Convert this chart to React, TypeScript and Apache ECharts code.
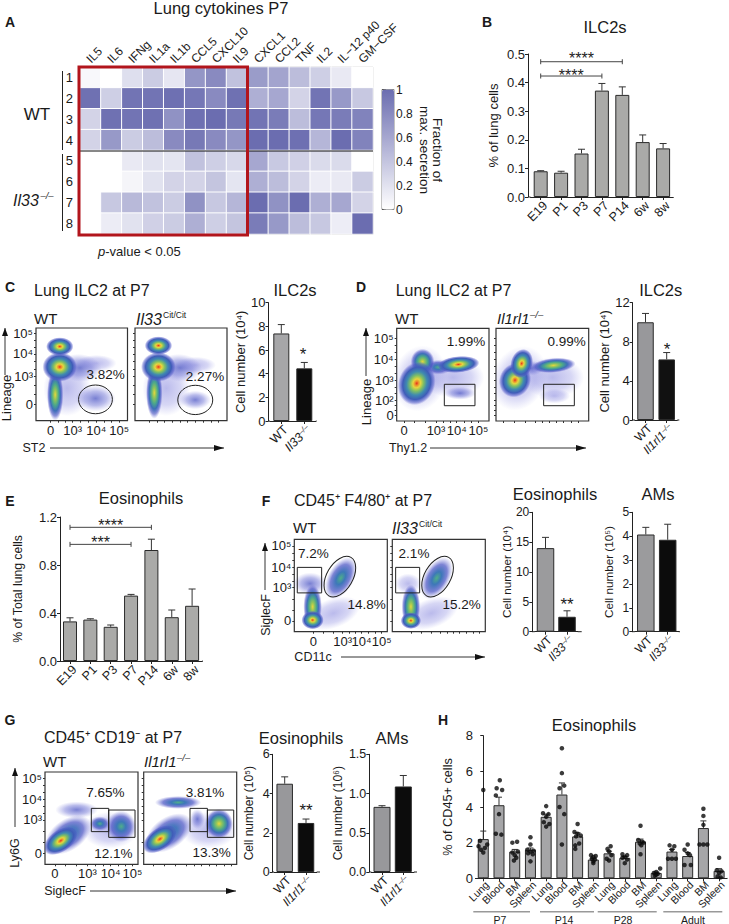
import React, { useEffect, useRef } from "react";
import * as echarts from "echarts";

const FONT = '"Liberation Sans", Arial, Helvetica, sans-serif';
const INK = "#222222";

// ---------- Panel A ----------
const heatCols = ["IL5","IL6","IFNg","IL1a","IL1b","CCL5","CXCL10","IL9","CXCL1","CCL2","TNF","IL2","IL−12 p40","GM−CSF"];
const heatRows = ["1","2","3","4","5","6","7","8"];
const heatValues = [
  [.05,0,.22,.35,.17,.72,.8,.42,.68,.62,.45,.33,.15,0],
  [.97,.33,.95,.95,.98,.93,.8,.97,.55,.6,.3,.95,.7,.38],
  [.3,.97,.95,.97,.75,.98,1,.92,.95,.9,.45,.93,.9,.85],
  [.3,.7,.35,.45,.8,.92,.8,.72,1,1,.98,.5,1,.85],
  [0,0,.15,.2,.18,.42,.33,.27,.6,.37,.32,.25,.25,0],
  [0,0,.07,.2,.3,.3,.4,.18,.55,.45,.3,.13,.15,.35],
  [0,.38,.48,.42,.35,.75,.38,.5,1,.75,1,.55,.6,.3],
  [0,.13,.2,.32,.35,.55,.33,.4,.9,.7,.45,.38,.12,1],
];

// ---------- Time-course bars ----------
const ageCats = ["E19","P1","P3","P7","P14","6w","8w"];
const ilcAgeVals = [.09,.085,.152,.372,.357,.192,.17];
const ilcAgeErrs = [.002,.005,.015,.025,.028,.025,.017];
const eosAgeVals = [.33,.345,.285,.545,.925,.365,.46];
const eosAgeErrs = [.03,.007,.015,.01,.09,.06,.14];

// ---------- Two-bar panels ----------
const catsIl33 = ["WT","Il33–/–"];
const catsRl1 = ["WT","Il1rl1–/–"];
const cVals = [7.4,4.45]; const cErrs = [.75,.5];
const dVals = [10,6.2]; const dErrs = [.9,.7];
const fEosVals = [14,2.5]; const fEosErrs = [1.8,1];
const fAmVals = [4.07,3.85]; const fAmErrs = [.3,.65];
const gEosVals = [4.5,2.5]; const gEosErrs = [.35,.2];
const gAmVals = [.83,1.09]; const gAmErrs = [.015,.14];

// ---------- Panel H ----------
const tissueCats = ["Lung","Blood","BM","Spleen","Lung ","Blood ","BM ","Spleen ","Lung  ","Blood  ","BM  ","Spleen  ","Lung   ","Blood   ","BM   ","Spleen   "];
const hVals = [2.2,4.1,1.5,1.6,3.45,4.7,2.35,1.05,1.4,1.15,2.05,.3,1.5,1.25,2.82,.42];
const hErrs = [.45,.45,.12,.1,.15,.65,.2,.07,.12,.07,.15,.05,.12,.2,.4,.12];
// [bar position with its sideways offset, value]
const hDots = [
  [0,4.95],[-.2,2.1],[.25,1.9],[-.3,1.8],[.1,1.7],[-.15,1.6],[0,1.45],
  [1.05,5.5],[.85,5.05],[1.2,4.95],[.8,4.65],[1,3.6],[.8,2.5],[1.15,2.45],
  [1.85,2.0],[2.15,2.05],[2.2,1.5],[1.85,1.45],[2,1.3],[2.1,1.15],[1.95,1.0],
  [3,2.3],[3,1.9],[2.8,1.6],[3.2,1.55],[3,1.5],[2.85,1.4],[3.15,1.35],[3,.95],
  [4,4.05],[3.8,3.65],[4.15,3.6],[4,3.45],[3.85,3.15],[4.2,3.05],[4,2.9],
  [5,7.3],[5,5.9],[5.15,5.2],[4.85,5.05],[4.85,4.0],[5.15,3.6],[5,1.9],
  [6,3.05],[5.8,2.6],[6,2.5],[6.2,2.4],[5.9,2.35],[6.1,1.95],[5.85,1.85],[5.85,1.65],
  [6.85,1.3],[7.15,1.25],[7,1.2],[6.9,1.1],[7.1,1.05],[7,.95],[7,.85],
  [8.1,1.8],[7.9,1.65],[8,1.5],[8.15,1.3],[7.85,1.1],[8,1.0],
  [8.85,1.35],[9.15,1.3],[9,1.2],[8.85,1.15],[9.15,1.05],[9,.85],
  [10,2.95],[9.85,2.15],[10.1,2.05],[10.2,2.0],[9.95,1.95],[10.05,1.85],[10,1.35],
  [11.25,.55],[11,.35],[10.85,.3],[11.1,.25],[11,.2],[10.9,.15],
  [11.85,1.85],[12.15,1.8],[12,1.6],[11.75,1.1],[12,1.1],[12.25,1.1],
  [13,1.9],[12.8,1.6],[13,1.4],[13.15,1.3],[12.8,.75],[13.2,.75],
  [14,3.9],[14,3.5],[14,3.0],[13.75,1.9],[14,1.9],[14.25,1.9],
  [15,1.15],[14.85,.45],[15.15,.4],[15,.3],[14.9,.1],[15.1,.05],
];

// ---------- Flow plots: [x%, y%, rx%, ry%, rotation deg, density level] ----------
const flowC1 = [[34,35,26,30,0,0],[66,62,22,9,0,0],[65,24,22,14,0,1],[48,57,24,15,-5,1],[21,28,9,28,0,3],[26,58,19,16,0,4],[26,80,15,10,0,4]];
const flowC2 = [[34,35,26,30,0,0],[66,60,22,9,0,0],[65.5,22.4,17,10,0,1],[49,57,24,15,-5,1],[21,30,9,28,0,3],[25.5,58,19,16,0,4],[25.5,81,15,10,0,4]];
const flowD1 = [[25,46,29,36,-15,0],[61,47,34,22,0,0],[68.6,30,17,7,0,1],[45,58,15,8,0,2],[28,64,13,14,0,3],[21.7,40.6,20,24,-20,4],[66.8,61,23,9,5,4]];
const flowD2 = [[25,46,29,36,-25,0],[61,47,34,22,0,0],[63,27,17,8,0,0],[38,57,13,8,0,1],[20.5,44,17,19,-25,4],[27.7,62,12,16,-15,4],[62,60,24,8,5,3]];
const flowF1 = [[42,20,30,16,20,0],[17,52,18,12,0,1],[50,58,14,25,-30,2],[19.7,27,10,24,0,3],[19.7,12.6,12,10,0,4]];
const flowF2 = [[42,20,30,16,20,0],[17,52,14,11,0,0],[47.7,58,14,25,-30,2],[20,27,10,24,0,3],[20,12,11,9,0,4]];
const flowG1 = [[70,37,30,20,0,0],[34,59,23,9,0,1],[25,32,28,17,35,2],[59,44,11,8,0,2],[82,41,16,17,0,2],[17,25.6,21,12,35,4]];
const flowG2 = [[70,37,30,20,0,0],[37,67,25,7,0,2],[27,34,28,17,35,2],[57.7,49,8,11,0,1],[81,44,15,16,0,3],[17.5,27.4,21,12,35,4]];
// gates: [a, b, c, d, rotation deg, kind] kind 0 = rect (x0,y0,x1,y1), kind 1 = ellipse (cx,cy,rx,ry)
const gateC1 = [[65,23,18.5,15.5,0,1]];
const gateC2 = [[65.5,22.4,19,15.8,0,1]];
const gateD1 = [[51.6,16.5,84.8,39.6,0,0]];
const gateD2 = [[51.4,16.5,84.5,39.6,0,0]];
const gateF1 = [[3.2,42,29.4,69.6,0,0],[49,59.6,14,24,-30,1]];
const gateF2 = [[3.6,42,29.4,69.6,0,0],[48.7,59.6,14,24,-30,1]];
const gateG1 = [[49.8,35.4,68.5,60.6,0,0],[68.5,29.2,96.8,58.8,0,0]];
const gateG2 = [[49.8,35.4,68.5,60.6,0,0],[68.5,29.2,96.8,58.8,0,0]];

const ticksC = { xv:[16,40,66,91], xl:["0","10³","10⁴","10⁵"], yv:[18,48,72,94.6], yl:["0","10³","10⁴","10⁵"] };
const ticksD = { xv:[8,42.6,65,88.5], xl:["0","10³","10⁴","10⁵"], yv:[5.8,22.5,44,66.5,89], yl:["0","10²","10³","10⁴","10⁵"] };
const ticksF = { xv:[20.4,52,72.4,94], xl:["0","10³","10⁴","10⁵"], yv:[11.6,47.6,70,92.8], yl:["0","10³","10⁴","10⁵"] };
const ticksG = { xv:[10.7,45.5,70.6,94], xl:["0","10³","10⁴","10⁵"], yv:[12,48,70.5,93], yl:["0","10³","10⁴","10⁵"] };

const levelStops: any[] = [
  [[0,"rgba(130,130,220,.55)"],[.6,"rgba(140,140,225,.35)"],[1,"rgba(150,150,230,0)"]],
  [[0,"rgba(75,85,195,.75)"],[.55,"rgba(100,105,210,.45)"],[1,"rgba(130,130,220,0)"]],
  [[0,"#4fae8a"],[.3,"#3d78b8"],[.65,"rgba(70,80,195,.7)"],[1,"rgba(120,120,215,0)"]],
  [[0,"#e6d63e"],[.2,"#8fc45c"],[.42,"#4aa68c"],[.62,"#3d6fb8"],[.82,"rgba(70,80,195,.6)"],[1,"rgba(120,120,215,0)"]],
  [[0,"#e5301e"],[.09,"#ee8a2c"],[.2,"#e6d63e"],[.36,"#7fbf64"],[.54,"#3f8ab0"],[.74,"#3f5cb8"],[.9,"rgba(80,90,200,.5)"],[1,"rgba(120,120,215,0)"]],
];

function buildOption() {
  const grid: any[] = [], xAxis: any[] = [], yAxis: any[] = [], series: any[] = [], graphic: any[] = [];

  const txt = (x: number, y: number, text: string, o: any = {}) => {
    graphic.push({
      type: "text", x, y, z: 100, silent: true,
      rotation: o.rot ? (o.rot * Math.PI) / 180 : 0,
      style: {
        text, x: 0, y: 0, fill: o.fill || "#1a1a1a", fontFamily: FONT,
        fontSize: o.size || 13, fontWeight: o.weight || "normal", fontStyle: o.style || "normal",
        align: o.align || "center", verticalAlign: "middle", rich: o.rich,
      },
    });
  };
  const seg = (x1: number, y1: number, x2: number, y2: number, stroke = INK, w = 1) =>
    graphic.push({ type: "line", z: 90, silent: true, shape: { x1, y1, x2, y2 }, style: { stroke, lineWidth: w } });
  const arrow = (x1: number, y1: number, x2: number, y2: number) => {
    seg(x1, y1, x2, y2, "#333", 1);
    const up = x1 === x2;
    const pts = up ? [[x2, y2], [x2 - 3, y2 + 8], [x2 + 3, y2 + 8]] : [[x2, y2], [x2 - 10, y2 - 3], [x2 - 10, y2 + 3]];
    graphic.push({ type: "polygon", z: 90, silent: true, shape: { points: pts }, style: { fill: "#111" } });
  };

  const catLabel = (v: string) => {
    const t = v.trim();
    const m = t.match(/^(.*)–\/–$/);
    return m ? `{i|${m[1]}}{s|–/–}` : t;
  };

  const barPanel = (c: any) => {
    const n = c.cats.length;
    const gl = c.firstCenter - c.band / 2;
    const nameSize = c.nameSize || 13;
    grid.push({ left: gl, top: c.top, width: c.band * n, height: c.y0 - c.top });
    const gi = grid.length - 1;
    xAxis.push({
      type: "category", gridIndex: gi, data: c.cats,
      axisLine: { lineStyle: { color: INK, width: 1 } },
      axisTick: { show: true, alignWithLabel: true, length: 3, lineStyle: { color: INK } },
      axisLabel: {
        interval: 0, rotate: 45, align: "right", verticalAlign: "top",
        fontFamily: FONT, fontSize: c.xSize || 13, color: "#1a1a1a", margin: c.xMargin ?? 2,
        formatter: catLabel,
        rich: {
          i: { fontStyle: "italic", fontFamily: FONT, fontSize: c.xSize || 13, color: "#1a1a1a" },
          s: { fontStyle: "italic", fontFamily: FONT, fontSize: (c.xSize || 13) * 0.62, color: "#1a1a1a", verticalAlign: "top" },
        },
      },
    });
    const xi = xAxis.length - 1;
    yAxis.push({
      type: "value", gridIndex: gi, min: 0, max: c.max, interval: c.interval, offset: gl - c.axisX,
      splitLine: { show: false },
      axisLine: { show: true, lineStyle: { color: INK, width: 1 } },
      axisTick: { show: true, length: 3, lineStyle: { color: INK } },
      axisLabel: { fontFamily: FONT, fontSize: c.ySize || 13, color: "#1a1a1a", margin: 3,
        formatter: c.yFmt || ((v: number) => String(v)) },
      name: c.yName, nameLocation: "middle", nameGap: c.axisX - c.nameX - nameSize / 2,
      nameTextStyle: { fontFamily: FONT, fontSize: nameSize, color: "#1a1a1a" },
    });
    const yi = yAxis.length - 1;
    if (gl > c.axisX) seg(c.axisX, c.y0, gl, c.y0);
    if (c.xEnd > gl + c.band * n) seg(gl + c.band * n, c.y0, c.xEnd, c.y0);
    series.push({
      type: "bar", xAxisIndex: xi, yAxisIndex: yi, data: c.vals, barWidth: c.barW,
      itemStyle: {
        borderColor: "#2a2a2a", borderWidth: 1,
        color: (p: any) => c.colors[p.dataIndex % c.colors.length],
      },
    });
    series.push({
      type: "custom", xAxisIndex: xi, yAxisIndex: yi, encode: { x: 0, y: 1 }, z: 3,
      data: c.vals.map((v: number, i: number) => [i, v, c.errs[i]]),
      renderItem: (_: any, api: any) => {
        const i = api.value(0), v = api.value(1), e = api.value(2);
        const a = api.coord([i, v]), b = api.coord([i, v + e]);
        const cap = c.cap ?? 3.5;
        const st = { stroke: "#333", lineWidth: 1 };
        return { type: "group", children: [
          { type: "line", shape: { x1: a[0], y1: a[1], x2: b[0], y2: b[1] }, style: st },
          { type: "line", shape: { x1: b[0] - cap, y1: b[1], x2: b[0] + cap, y2: b[1] }, style: st },
        ] };
      },
    });
    if (c.brackets) {
      series.push({
        type: "custom", xAxisIndex: xi, yAxisIndex: yi, encode: { x: 0, y: 2 }, z: 4,
        data: c.brackets.map((b: any) => [b[0], b[1], b[2]]),
        renderItem: (p: any, api: any) => {
          const b = c.brackets[p.dataIndex];
          const l = api.coord([b[0], b[2]]), r = api.coord([b[1], b[2]]);
          const st = { stroke: "#444", lineWidth: 1 };
          return { type: "group", children: [
            { type: "line", shape: { x1: l[0], y1: l[1], x2: r[0], y2: r[1] }, style: st },
            { type: "line", shape: { x1: l[0], y1: l[1] - 2.5, x2: l[0], y2: l[1] + 2.5 }, style: st },
            { type: "line", shape: { x1: r[0], y1: r[1] - 2.5, x2: r[0], y2: r[1] + 2.5 }, style: st },
            { type: "text", style: { text: b[3], x: l[0] + (r[0] - l[0]) * 0.5, y: l[1] + (b[4] ?? -2), fill: "#222",
              fontFamily: FONT, fontSize: 16, align: "center", verticalAlign: "middle" } },
          ] };
        },
      });
    }
    return { xi, yi };
  };

  const flow = (box: number[], blobs: number[][], gates: number[][], ticks: any, showLabels: boolean) => {
    const [l, t, r, b] = box;
    grid.push({ left: l, top: t, width: r - l, height: b - t, show: true, borderColor: "#333", borderWidth: 1.2, backgroundColor: "#fff" });
    const gi = grid.length - 1;
    const minorOf = (v: number[]) => {
      const out = [...v];
      for (let i = 0; i < v.length - 1; i++) out.push((v[i] * 2 + v[i + 1]) / 3, (v[i] + v[i + 1] * 2) / 3);
      return out;
    };
    const mk = (vals: number[], labs: string[]) => ({
      type: "value", gridIndex: gi, min: 0, max: 100,
      splitLine: { show: false }, axisLine: { show: false },
      axisTick: { show: true, customValues: minorOf(vals), length: 2, lineStyle: { color: "#333" } },
      axisLabel: { show: showLabels, customValues: vals, fontFamily: FONT, fontSize: 13, color: "#1a1a1a", margin: 3,
        formatter: (v: number) => labs[vals.indexOf(v)] ?? "" },
    });
    xAxis.push(mk(ticks.xv, ticks.xl));
    yAxis.push(mk(ticks.yv, ticks.yl));
    const xi = xAxis.length - 1, yi = yAxis.length - 1;
    series.push({
      type: "custom", xAxisIndex: xi, yAxisIndex: yi, encode: { x: 0, y: 1 }, clip: true, data: blobs,
      renderItem: (_: any, api: any) => {
        const c = api.coord([api.value(0), api.value(1)]);
        const o = api.coord([0, 0]), u = api.coord([1, 1]);
        const lv = api.value(5);
        const stops = levelStops[lv].map((s: any) => ({ offset: s[0], color: s[1] }));
        return {
          type: "ellipse", x: c[0], y: c[1], rotation: (api.value(4) * Math.PI) / 180,
          shape: { cx: 0, cy: 0, rx: api.value(2) * (u[0] - o[0]), ry: api.value(3) * (o[1] - u[1]) },
          style: { fill: new echarts.graphic.RadialGradient(0.5, 0.5, 0.5, stops) },
        };
      },
    });
    series.push({
      type: "custom", xAxisIndex: xi, yAxisIndex: yi, encode: { x: 0, y: 1 }, z: 5, data: gates,
      renderItem: (_: any, api: any) => {
        const st = { fill: "none", stroke: "#222", lineWidth: 1 };
        if (api.value(5) === 0) {
          const p0 = api.coord([api.value(0), api.value(1)]), p1 = api.coord([api.value(2), api.value(3)]);
          return { type: "rect", shape: { x: p0[0], y: p1[1], width: p1[0] - p0[0], height: p0[1] - p1[1] }, style: st };
        }
        const c = api.coord([api.value(0), api.value(1)]);
        const o = api.coord([0, 0]), u = api.coord([1, 1]);
        return {
          type: "ellipse", x: c[0], y: c[1], rotation: (api.value(4) * Math.PI) / 180,
          shape: { cx: 0, cy: 0, rx: api.value(2) * (u[0] - o[0]), ry: api.value(3) * (o[1] - u[1]) },
          style: st,
        };
      },
    });
  };

  // ---------- A: heat map ----------
  grid.push({ left: 80, top: 67, width: 293, height: 167, show: true, borderColor: "#666", borderWidth: 1 });
  xAxis.push({
    type: "category", gridIndex: 0, position: "top", data: heatCols,
    axisLine: { show: false }, axisTick: { show: false }, splitLine: { show: false },
    axisLabel: { show: false },
  });
  heatCols.forEach((name, i) => {
    txt(80 + (i + 0.5) * (293 / heatCols.length) - 2, 61, name, { size: 12, rot: 45, align: "left" });
  });
  yAxis.push({
    type: "category", gridIndex: 0, inverse: true, data: heatRows,
    axisLine: { show: false }, axisTick: { show: false }, splitLine: { show: false },
    axisLabel: { margin: 7, fontFamily: FONT, fontSize: 13, color: "#1a1a1a" },
  });
  series.push({
    type: "heatmap", xAxisIndex: 0, yAxisIndex: 0,
    data: heatValues.flatMap((row, r) => row.map((v, c) => [c, r, v])),
    itemStyle: { borderColor: "#ffffff", borderWidth: 1 },
  });
  // colour-bar scale
  grid.push({ left: 382, top: 89.5, width: 12, height: 120, show: true, borderColor: "#888", borderWidth: 1 });
  xAxis.push({ type: "value", gridIndex: 1, min: 0, max: 1, show: false });
  yAxis.push({
    type: "value", gridIndex: 1, position: "right", min: 0, max: 1, interval: 0.2,
    splitLine: { show: false }, axisLine: { show: false },
    axisTick: { show: true, length: 4, lineStyle: { color: "#555" } },
    axisLabel: { margin: 2, fontFamily: FONT, fontSize: 12, color: "#1a1a1a", formatter: (v: number) => String(+v.toFixed(1)) },
  });

  graphic.push({ type: "rect", z: 95, silent: true, shape: { x: 79, y: 67, width: 168.5, height: 168 }, style: { fill: "none", stroke: "#b2151c", lineWidth: 3 } });
  seg(80, 151, 373, 151, "#111", 1);
  seg(62.5, 71, 62.5, 150, "#222", 1);
  seg(62.5, 154, 62.5, 231, "#222", 1);
  txt(221, 8, "Lung cytokines P7", { size: 16.5 });
  txt(10, 22, "A", { size: 14, weight: "bold" });
  txt(37, 114, "WT", { size: 17 });
  txt(26, 200, "Il33", { size: 16, style: "italic" });
  txt(47, 195, "–/–", { size: 9.5, style: "italic" });
  txt(437, 150, "Fraction of", { size: 13.5, rot: -90 });
  txt(424, 150, "max. secretion", { size: 13.5, rot: -90 });
  txt(98, 251, "{i|p}-value < 0.05", { size: 13, align: "left",
    rich: { i: { fontStyle: "italic", fontFamily: FONT, fontSize: 13, fill: "#1a1a1a" } } });

  // ---------- B ----------
  barPanel({ cats: ageCats, vals: ilcAgeVals, errs: ilcAgeErrs, colors: ["#aaaaa8"], firstCenter: 540.7, band: 20.4, barW: 14,
    axisX: 528, xEnd: 673, top: 54, y0: 197, max: .5, interval: .1, yFmt: (v: number) => v.toFixed(1),
    yName: "% of lung cells", nameX: 493, xSize: 12.5,
    brackets: [[0,4,.473,"****",-3.5],[0,3,.423,"****",-1]] });
  txt(487, 22, "B", { size: 14, weight: "bold" });
  txt(605, 27, "ILC2s", { size: 16.5 });

  // ---------- C ----------
  txt(10, 287, "C", { size: 14, weight: "bold" });
  txt(34, 290, "Lung ILC2 at P7", { size: 16, align: "left" });
  txt(34, 318, "WT", { size: 15, align: "left" });
  txt(136, 319, "Il33", { size: 16, style: "italic", align: "left" });
  txt(163, 315, "Cit/Cit", { size: 8.5, align: "left" });
  flow([36, 328, 127.5, 420.7], flowC1, gateC1, ticksC, true);
  flow([135, 328, 227, 420.7], flowC2, gateC2, ticksC, false);
  txt(105.7, 374, "3.82%", { size: 13.5 });
  txt(205, 376, "2.27%", { size: 13.5 });
  arrow(5, 375, 5, 328);
  txt(6, 398, "Lineage", { size: 13, rot: 90 });
  txt(34, 448, "ST2", { size: 12.5 });
  arrow(50, 448, 224, 448);
  barPanel({ cats: catsIl33, vals: cVals, errs: cErrs, colors: ["#a6a6a8","#0c0c0c"], firstCenter: 281.3, band: 23, barW: 16,
    axisX: 268.5, xEnd: 316.7, top: 302.7, y0: 421, max: 10, interval: 2, yName: "Cell number (10⁴)", nameX: 241, xSize: 12.5 });
  txt(295, 290, "ILC2s", { size: 16.5 });
  txt(303, 354.4, "*", { size: 17 });

  // ---------- D ----------
  txt(361, 287, "D", { size: 14, weight: "bold" });
  txt(395.7, 290, "Lung ILC2 at P7", { size: 16, align: "left" });
  txt(395, 318, "WT", { size: 15, align: "left" });
  txt(497, 318, "Il1rl1", { size: 15, style: "italic", align: "left" });
  txt(530, 314, "–/–", { size: 9.5, style: "italic", align: "left" });
  flow([396.7, 328.3, 489, 421], flowD1, gateD1, ticksD, true);
  flow([496, 328.3, 588.7, 421], flowD2, gateD2, ticksD, false);
  txt(466, 341.7, "1.99%", { size: 13.5 });
  txt(566.7, 341.7, "0.99%", { size: 13.5 });
  arrow(366, 376, 366, 328);
  txt(366, 402, "Lineage", { size: 13, rot: 90 });
  txt(408, 448, "Thy1.2", { size: 12.5 });
  arrow(430, 448, 586, 448);
  barPanel({ cats: catsRl1, vals: dVals, errs: dErrs, colors: ["#98989b","#111111"], firstCenter: 645.5, band: 21.2, barW: 16.5,
    axisX: 632.7, xEnd: 679.3, top: 302.7, y0: 420, max: 12, interval: 4, yName: "Cell number (10⁴)", nameX: 609, xSize: 12 });
  txt(660.7, 290, "ILC2s", { size: 16.5 });
  txt(667, 349.5, "*", { size: 17 });

  // ---------- E ----------
  barPanel({ cats: ageCats, vals: eosAgeVals, errs: eosAgeErrs, colors: ["#aaaaa8"], firstCenter: 70, band: 20.35, barW: 14,
    axisX: 60, xEnd: 203, top: 517, y0: 661, max: 1.2, interval: .4, yFmt: (v: number) => v.toFixed(1),
    yName: "% of Total lung cells", nameSize: 12.2, nameX: 18, xSize: 12.5,
    brackets: [[0,4,1.114,"****"],[0,3,.972,"***"]] });
  txt(10, 501, "E", { size: 14, weight: "bold" });
  txt(141, 497.7, "Eosinophils", { size: 16.5 });

  // ---------- F ----------
  txt(266, 501, "F", { size: 14, weight: "bold" });
  txt(294, 500, "CD45⁺ F4/80⁺ at P7", { size: 16, align: "left" });
  txt(293, 527, "WT", { size: 15, align: "left" });
  txt(392, 528, "Il33", { size: 16, style: "italic", align: "left" });
  txt(419, 524, "Cit/Cit", { size: 8.5, align: "left" });
  flow([294.3, 539.3, 387.3, 631.7], flowF1, gateF1, ticksF, true);
  flow([392.3, 539.3, 485.3, 631.7], flowF2, gateF2, ticksF, false);
  txt(313.3, 553.3, "7.2%", { size: 13.5 });
  txt(366.7, 604.3, "14.8%", { size: 13.5 });
  txt(414, 553.3, "2.1%", { size: 13.5 });
  txt(461.7, 604.3, "15.2%", { size: 13.5 });
  arrow(265, 590, 265, 543);
  txt(266, 615, "SiglecF", { size: 12.5, rot: 90 });
  txt(313, 657, "CD11c", { size: 12.5 });
  arrow(341, 657, 485, 657);
  barPanel({ cats: catsIl33, vals: fEosVals, errs: fEosErrs, colors: ["#9b9b9d","#0c0c0c"], firstCenter: 545.5, band: 21.5, barW: 17.5,
    axisX: 532.3, xEnd: 581.7, top: 512.3, y0: 631.7, max: 20, interval: 5, yName: "Cell number (10⁴)", nameSize: 11.7, nameX: 506.7, xSize: 12, ySize: 12 });
  txt(555, 494, "Eosinophils", { size: 16.5 });
  txt(567, 604, "**", { size: 17 });
  barPanel({ cats: catsIl33, vals: fAmVals, errs: fAmErrs, colors: ["#9b9b9d","#0c0c0c"], firstCenter: 645.8, band: 21.9, barW: 17.5,
    axisX: 632.3, xEnd: 680, top: 512.3, y0: 631.7, max: 5, interval: 1, yName: "Cell number (10⁵)", nameSize: 11.7, nameX: 609, xSize: 12, ySize: 12 });
  txt(658, 494, "AMs", { size: 16.5 });

  // ---------- G ----------
  txt(10, 720, "G", { size: 14, weight: "bold" });
  txt(44, 737.7, "CD45⁺ CD19⁻ at P7", { size: 16, align: "left" });
  txt(43, 761, "WT", { size: 15, align: "left" });
  txt(144, 761, "Il1rl1", { size: 15, style: "italic", align: "left" });
  txt(177, 757, "–/–", { size: 9.5, style: "italic", align: "left" });
  flow([45, 772, 138, 864.3], flowG1, gateG1, ticksG, true);
  flow([143.7, 772, 236.7, 864.3], flowG2, gateG2, ticksG, false);
  txt(105.3, 792, "7.65%", { size: 13.5 });
  txt(113.3, 853, "12.1%", { size: 13.5 });
  txt(205, 792, "3.81%", { size: 13.5 });
  txt(211.7, 852.3, "13.3%", { size: 13.5 });
  arrow(15, 827, 15, 768);
  txt(15, 853, "Ly6G", { size: 12.5, rot: 90 });
  txt(65, 891, "SiglecF", { size: 12.5 });
  arrow(90, 891, 236, 891);
  barPanel({ cats: catsRl1, vals: gEosVals, errs: gEosErrs, colors: ["#98989b","#0c0c0c"], firstCenter: 284.7, band: 21.3, barW: 16.5,
    axisX: 272.7, xEnd: 320, top: 754.3, y0: 872, max: 6, interval: 2, yName: "Cell number (10⁵)", nameSize: 12, nameX: 249.3, xSize: 12, ySize: 12.5 });
  txt(301, 737.7, "Eosinophils", { size: 16.5 });
  txt(306, 810.5, "**", { size: 17 });
  barPanel({ cats: catsRl1, vals: gAmVals, errs: gAmErrs, colors: ["#98989b","#0c0c0c"], firstCenter: 382, band: 21.3, barW: 17,
    axisX: 369.3, xEnd: 417, top: 754.3, y0: 872, max: 1.5, interval: .5, yFmt: (v: number) => v.toFixed(1), yName: "Cell number (10⁶)", nameSize: 12, nameX: 338, xSize: 12, ySize: 12.5 });
  txt(392, 737.7, "AMs", { size: 16.5 });

  // ---------- H ----------
  txt(443, 720, "H", { size: 14, weight: "bold" });
  txt(594, 725, "Eosinophils", { size: 16.5 });
  const h = barPanel({ cats: tissueCats, vals: hVals, errs: hErrs, colors: ["#a6a6a8"], firstCenter: 483.3, band: 15.77, barW: 11, cap: 3,
    axisX: 476, xEnd: 728, top: 735.7, y0: 878.3, max: 8, interval: 2, yName: "% of CD45+ cells", nameSize: 12.7, nameX: 448, xSize: 10.5, xMargin: 1 });
  xAxis.push({ type: "value", gridIndex: grid.length - 1, min: -0.5, max: 15.5, show: false });
  series.push({
    type: "scatter", xAxisIndex: xAxis.length - 1, yAxisIndex: h.yi, data: hDots, symbolSize: 4.5, z: 6,
    itemStyle: { color: "#0a0a0a" },
  });
  [[473.3,530,500,"P7"],[540,594,564,"P14"],[597.7,656.7,623,"P28"],[663.3,722.3,693,"Adult"]].forEach((g: any) => {
    seg(g[0], 911.7, g[1], 911.7, "#999", 1.5);
    txt(g[2], 919.5, g[3], { size: 10.5 });
  });

  return {
    animation: false,
    backgroundColor: "#ffffff",
    textStyle: { fontFamily: FONT },
    grid, xAxis, yAxis, series, graphic,
    visualMap: {
      type: "continuous", seriesIndex: 0, min: 0, max: 1, left: 382, top: 89.5,
      itemWidth: 12, itemHeight: 120, calculable: false, showLabel: false, text: ["", ""],
      inRange: { color: ["#ffffff", "#6b6db0"] }, padding: 0, textStyle: { fontSize: 0 },
    },
  };
}

export default function App() {
  const ref = useRef<HTMLDivElement>(null);
  useEffect(() => {
    document.body.style.margin = "0";
    const chart = echarts.init(ref.current!, undefined, { renderer: "svg" });
    chart.setOption(buildOption() as any);
    return () => chart.dispose();
  }, []);
  return <div ref={ref} style={{ width: 729, height: 924 }} />;
}
